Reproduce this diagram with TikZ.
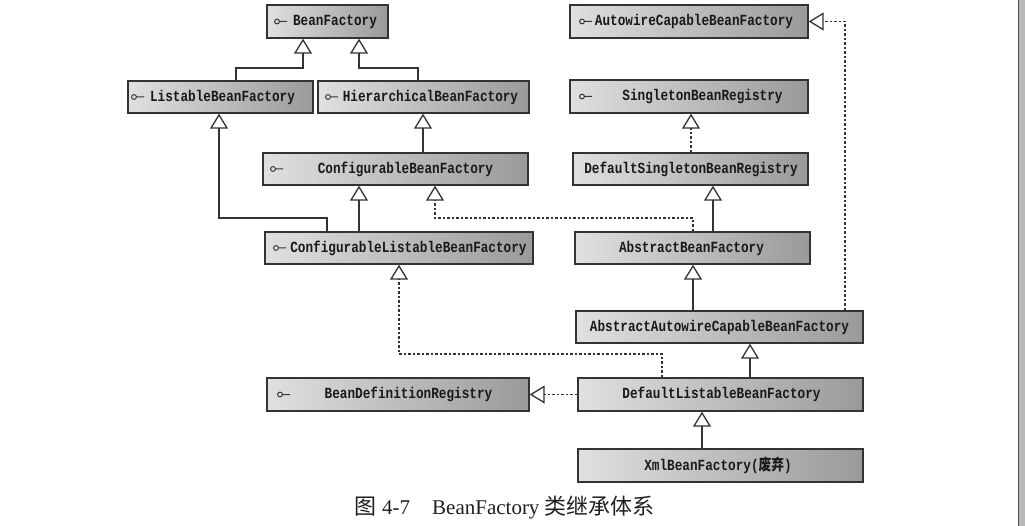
\documentclass[tikz,border=0pt]{standalone}
\usepackage{graphicx}
\usepackage{fontspec}
\setmainfont{Liberation Serif}
\setmonofont{Liberation Mono}
\newfontfamily\cjk{Noto Sans CJK SC}
\usetikzlibrary{arrows.meta}
\definecolor{edge}{HTML}{333333}
\definecolor{boxL}{HTML}{E0E0E0}
\definecolor{boxR}{HTML}{9A9A9A}
\tikzset{
  box/.style={draw=edge, line width=1.4pt, left color=boxL, right color=boxR, inner sep=0pt},
  lbl/.style={font=\ttfamily\bfseries\fontsize{12.7}{14}\selectfont, text=black!90, inner sep=0pt},
  inh/.style={draw=edge, line width=1.3pt, -{Triangle[open, length=15pt, width=18pt, line width=1.3pt]}},
  real/.style={inh, dash pattern=on 2.5pt off 2pt},
  lolli/.style={draw=edge, line width=1pt},
}
\newcommand{\lollipop}[2]{\draw[lolli] (#1,#2) circle (2.4) (#1+2.4,#2) -- (#1+10,#2);}
\newcommand{\tall}[1]{\scalebox{1}[1.22]{#1}}
\begin{document}
\begin{tikzpicture}[x=1pt,y=-1pt]
\useasboundingbox (0,0) rectangle (1025,526);
\fill[gray!55] (1018,0) rectangle (1025,526);
\draw[black!70, line width=0.8pt] (1018,0) -- (1018,526);

% boxes
\node[box, minimum width=121, minimum height=33] (bf)    at (327.5,21.5) {};
\node[box, minimum width=185, minimum height=32] (lbf)   at (220.5,97) {};
\node[box, minimum width=211, minimum height=32] (hbf)   at (423.5,97) {};
\node[box, minimum width=265, minimum height=32] (cbf)   at (395.5,169) {};
\node[box, minimum width=268, minimum height=32] (clbf)  at (399,248) {};
\node[box, minimum width=238, minimum height=33] (acbf)  at (689,21.5) {};
\node[box, minimum width=238, minimum height=33] (sbr)   at (689,96.5) {};
\node[box, minimum width=235, minimum height=32] (dsbr)  at (690.5,169) {};
\node[box, minimum width=235, minimum height=32] (abf)   at (692.5,248) {};
\node[box, minimum width=287, minimum height=32] (aacbf) at (719.5,327) {};
\node[box, minimum width=262, minimum height=33] (bdr)   at (398,394.5) {};
\node[box, minimum width=285, minimum height=33] (dlbf)  at (720.5,394.5) {};
\node[box, minimum width=285, minimum height=33] (xml)   at (720.5,465.5) {};

% labels
\node[lbl] (bft)    at (335,21.5)   {\tall{BeanFactory}};
\node[lbl] (lbft)   at (222.5,97)   {\tall{ListableBeanFactory}};
\node[lbl] (hbft)   at (430.5,97)   {\tall{HierarchicalBeanFactory}};
\node[lbl] (cbft)   at (405.5,169)  {\tall{ConfigurableBeanFactory}};
\node[lbl] (clbft)  at (408.5,248)  {\tall{ConfigurableListableBeanFactory}};
\node[lbl] (acbft)  at (694,21.5)   {\tall{AutowireCapableBeanFactory}};
\node[lbl] (sbrt)   at (702.5,96.5) {\tall{SingletonBeanRegistry}};
\node[lbl] (dsbrt)  at (691,169)    {\tall{DefaultSingletonBeanRegistry}};
\node[lbl] (abft)   at (691.5,248)  {\tall{AbstractBeanFactory}};
\node[lbl] (aacbft) at (719.5,327)  {\tall{AbstractAutowireCapableBeanFactory}};
\node[lbl] (bdrt)   at (408.5,394.5){\tall{BeanDefinitionRegistry}};
\node[lbl] (dlbft)  at (721.5,394.5){\tall{DefaultListableBeanFactory}};
\node[lbl] (xmlt)   at (718,465.5)  {\tall{XmlBeanFactory({\cjk 废弃})}};

% interface markers
\lollipop{277}{21.5}
\lollipop{134}{97}
\lollipop{328}{97}
\lollipop{273}{169}
\lollipop{276}{248}
\lollipop{582}{21.5}
\lollipop{582}{96.5}
\lollipop{280}{394.5}

% connectors
\draw[inh]  (lbf.north -| 236,0) |- (303,68) -- (bf.south -| 303,0);
\draw[inh]  (hbf.north -| 418,0) |- (359,68) -- (bf.south -| 359,0);
\draw[inh]  (cbf.north -| 423,0) -- (hbf.south -| 423,0);
\draw[inh]  (clbf.north -| 327,0) |- (219,218) -- (lbf.south -| 219,0);
\draw[inh]  (clbf.north -| 359,0) -- (cbf.south -| 359,0);
\draw[real] (abf.north -| 693,0) |- (435,218) -- (cbf.south -| 435,0);
\draw[inh]  (abf.north -| 713,0) -- (dsbr.south -| 713,0);
\draw[real] (dsbr.north -| 691,0) -- (sbr.south -| 691,0);
\draw[inh]  (aacbf.north -| 693,0) -- (abf.south -| 693,0);
\draw[real] (aacbf.north -| 845,0) |- (acbf.east);
\draw[inh]  (dlbf.north -| 750,0) -- (aacbf.south -| 750,0);
\draw[real] (dlbf.north -| 662,0) |- (399,354) -- (clbf.south -| 399,0);
\draw[real] (dlbf.west) -- (bdr.east);
\draw[inh]  (xml.north -| 702,0) -- (dlbf.south -| 702,0);

% caption
\node[anchor=west, inner sep=0pt, font=\fontsize{21}{24}\selectfont, text=black!88] (cap) at (354,508)
  {{\cjk\fontsize{22}{24}\selectfont 图}\hspace{6pt}4-7\hspace{22pt}BeanFactory\hspace{5pt}{\cjk\fontsize{22}{24}\selectfont 类继承体系}};
\end{tikzpicture}
\end{document}
